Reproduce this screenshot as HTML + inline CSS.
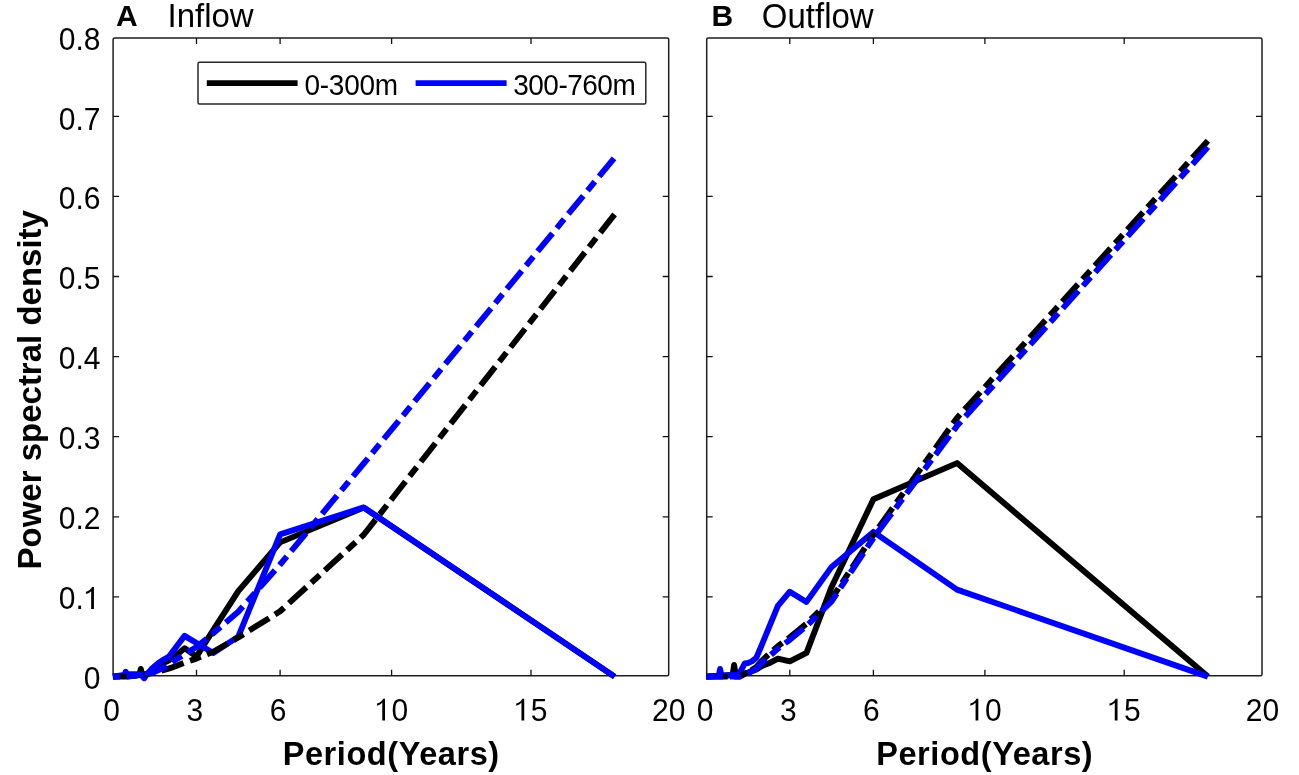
<!DOCTYPE html>
<html><head><meta charset="utf-8"><style>
html,body{margin:0;padding:0;background:#fff;}
svg{display:block;font-family:"Liberation Sans", sans-serif;will-change:transform;}
text{fill:#000;}
</style></head><body>
<svg width="1299" height="775" viewBox="0 0 1299 775">
<rect width="1299" height="775" fill="#fff"/>
<rect x="113.1" y="38.0" width="555.6" height="637.7" rx="1.5" fill="none" stroke="#1e1e1e" stroke-width="1.5"/>
<rect x="706.7" y="38.0" width="555.3" height="637.7" rx="1.5" fill="none" stroke="#1e1e1e" stroke-width="1.5"/>
<path d="M196.5,675.7v-6M196.5,38.0v6M280.1,675.7v-6M280.1,38.0v6M391.6,675.7v-6M391.6,38.0v6M531.0,675.7v-6M531.0,38.0v6M113.1,596.9h6M668.7,596.9h-6M113.1,516.8h6M668.7,516.8h-6M113.1,436.7h6M668.7,436.7h-6M113.1,356.6h6M668.7,356.6h-6M113.1,276.5h6M668.7,276.5h-6M113.1,196.4h6M668.7,196.4h-6M113.1,116.3h6M668.7,116.3h-6" stroke="#111" stroke-width="1.3" fill="none"/>
<path d="M789.8,675.7v-6M789.8,38.0v6M873.4,675.7v-6M873.4,38.0v6M984.9,675.7v-6M984.9,38.0v6M1124.2,675.7v-6M1124.2,38.0v6M706.7,596.9h6M1262.0,596.9h-6M706.7,516.8h6M1262.0,516.8h-6M706.7,436.7h6M1262.0,436.7h-6M706.7,356.6h6M1262.0,356.6h-6M706.7,276.5h6M1262.0,276.5h-6M706.7,196.4h6M1262.0,196.4h-6M706.7,116.3h6M1262.0,116.3h-6" stroke="#111" stroke-width="1.3" fill="none"/>
<polyline points="112.9,676.6 126.8,675.8 139.3,675.0 140.8,668.9 142.4,675.8 146.3,675.0 154.7,667.0 168.6,660.6 175.6,655.8 184.6,648.2 196.5,656.6 213.2,630.1 238.3,591.1 280.1,542.4 363.7,507.6 614.6,676.6" fill="none" stroke="#000" stroke-width="5.9" stroke-linejoin="round" stroke-linecap="butt"/>
<polyline points="112.9,676.6 124.0,675.0 124.9,674.2 125.7,671.8 126.8,674.2 138.0,674.2 140.8,674.2 144.3,678.2 146.3,675.0 148.7,672.6 151.5,669.0 154.7,666.2 158.5,663.0 163.1,659.8 168.6,657.0 175.6,647.8 184.6,635.9 196.5,643.0 213.2,653.0 238.3,636.6 280.1,534.4 363.7,507.4 614.6,676.6" fill="none" stroke="#0000ff" stroke-width="5.9" stroke-linejoin="round" stroke-linecap="butt"/>
<polyline points="112.9,676.6 126.8,676.6 140.8,675.0 154.7,672.6 168.6,668.6 175.6,666.2 184.6,662.6 196.5,658.6 213.2,651.8 238.3,637.4 280.1,611.3 363.7,534.8 614.6,214.4" fill="none" stroke="#000" stroke-width="5.9" stroke-linejoin="round" stroke-linecap="butt" stroke-dasharray="23.5 6.75 11.5 6.75" stroke-dashoffset="47.96"/>
<polyline points="112.9,676.6 126.8,676.6 140.8,675.0 154.7,671.8 168.6,665.4 175.6,659.8 184.6,654.2 196.5,647.0 213.2,633.3 238.3,611.7 280.1,564.5 363.7,463.5 614.6,157.6" fill="none" stroke="#0000ff" stroke-width="5.9" stroke-linejoin="round" stroke-linecap="butt" stroke-dasharray="23.5 6.75 11.5 6.75" stroke-dashoffset="16.35"/>
<polyline points="706.2,676.6 720.1,675.8 732.6,675.0 734.1,665.0 735.7,675.0 739.6,674.2 748.0,672.6 756.4,669.4 761.9,666.0 768.9,663.3 777.9,658.6 789.8,661.4 806.5,652.9 831.6,586.9 873.4,499.3 957.0,463.1 1207.9,676.6" fill="none" stroke="#000" stroke-width="5.9" stroke-linejoin="round" stroke-linecap="butt"/>
<polyline points="706.2,676.6 718.7,675.8 720.1,669.0 721.5,675.8 734.1,675.0 737.6,675.0 739.6,673.4 742.0,668.6 744.8,663.4 748.0,663.0 751.8,661.4 756.4,657.7 761.9,644.6 768.9,627.7 777.9,605.8 789.8,591.7 806.5,601.9 831.6,566.9 873.4,531.9 957.0,589.6 1207.9,676.6" fill="none" stroke="#0000ff" stroke-width="5.9" stroke-linejoin="round" stroke-linecap="butt"/>
<polyline points="706.2,676.6 739.6,676.6 748.0,672.6 756.4,667.0 761.9,660.6 768.9,654.2 777.9,646.2 789.8,637.4 806.5,623.7 831.6,598.9 873.4,534.8 957.0,417.9 1207.9,140.7" fill="none" stroke="#000" stroke-width="5.9" stroke-linejoin="round" stroke-linecap="butt" stroke-dasharray="23.5 6.75 11.5 6.75" stroke-dashoffset="2.05"/>
<polyline points="706.2,676.6 739.6,676.6 748.0,673.4 756.4,668.6 761.9,663.0 768.9,656.6 777.9,648.6 789.8,639.8 806.5,626.1 831.6,601.3 873.4,538.0 957.0,425.9 1207.9,147.1" fill="none" stroke="#0000ff" stroke-width="5.9" stroke-linejoin="round" stroke-linecap="butt" stroke-dasharray="23.5 6.75 11.5 6.75" stroke-dashoffset="6.56"/>
<g transform="translate(83.82,688.80) scale(1,1.04)"><text x="0.00" y="0" font-size="30">0</text></g>
<g transform="translate(58.80,608.91) scale(1,1.04)"><text x="0.00" y="0" font-size="30">0.</text><path transform="translate(25.02,0) scale(30,-30)" d="M0.245,0 L0.337,0 L0.337,0.704 L0.272,0.704 Q0.232,0.598 0.07,0.548 L0.07,0.478 Q0.185,0.505 0.245,0.57 Z"/></g>
<g transform="translate(58.80,529.02) scale(1,1.04)"><text x="0.00" y="0" font-size="30">0.2</text></g>
<g transform="translate(58.80,449.13) scale(1,1.04)"><text x="0.00" y="0" font-size="30">0.3</text></g>
<g transform="translate(58.80,369.24) scale(1,1.04)"><text x="0.00" y="0" font-size="30">0.4</text></g>
<g transform="translate(58.80,289.35) scale(1,1.04)"><text x="0.00" y="0" font-size="30">0.5</text></g>
<g transform="translate(58.80,209.46) scale(1,1.04)"><text x="0.00" y="0" font-size="30">0.6</text></g>
<g transform="translate(58.80,129.57) scale(1,1.04)"><text x="0.00" y="0" font-size="30">0.7</text></g>
<g transform="translate(58.80,49.68) scale(1,1.04)"><text x="0.00" y="0" font-size="30">0.8</text></g>
<g transform="translate(103.26,720.60) scale(1,1.04)"><text x="0.00" y="0" font-size="30">0</text></g>
<g transform="translate(186.56,720.60) scale(1,1.04)"><text x="0.00" y="0" font-size="30">3</text></g>
<g transform="translate(269.66,720.60) scale(1,1.04)"><text x="0.00" y="0" font-size="30">6</text></g>
<g transform="translate(374.92,720.60) scale(1,1.04)"><path transform="translate(0.00,0) scale(30,-30)" d="M0.245,0 L0.337,0 L0.337,0.704 L0.272,0.704 Q0.232,0.598 0.07,0.548 L0.07,0.478 Q0.185,0.505 0.245,0.57 Z"/><text x="16.68" y="0" font-size="30">0</text></g>
<g transform="translate(514.12,720.60) scale(1,1.04)"><path transform="translate(0.00,0) scale(30,-30)" d="M0.245,0 L0.337,0 L0.337,0.704 L0.272,0.704 Q0.232,0.598 0.07,0.548 L0.07,0.478 Q0.185,0.505 0.245,0.57 Z"/><text x="16.68" y="0" font-size="30">5</text></g>
<g transform="translate(652.12,720.60) scale(1,1.04)"><text x="0.00" y="0" font-size="30">20</text></g>
<text x="390.9" y="765.4" font-size="32.5" text-anchor="middle" font-weight="bold" textLength="216.5" lengthAdjust="spacing">Period(Years)</text>
<g transform="translate(696.76,720.60) scale(1,1.04)"><text x="0.00" y="0" font-size="30">0</text></g>
<g transform="translate(779.96,720.60) scale(1,1.04)"><text x="0.00" y="0" font-size="30">3</text></g>
<g transform="translate(863.06,720.60) scale(1,1.04)"><text x="0.00" y="0" font-size="30">6</text></g>
<g transform="translate(968.22,720.60) scale(1,1.04)"><path transform="translate(0.00,0) scale(30,-30)" d="M0.245,0 L0.337,0 L0.337,0.704 L0.272,0.704 Q0.232,0.598 0.07,0.548 L0.07,0.478 Q0.185,0.505 0.245,0.57 Z"/><text x="16.68" y="0" font-size="30">0</text></g>
<g transform="translate(1107.42,720.60) scale(1,1.04)"><path transform="translate(0.00,0) scale(30,-30)" d="M0.245,0 L0.337,0 L0.337,0.704 L0.272,0.704 Q0.232,0.598 0.07,0.548 L0.07,0.478 Q0.185,0.505 0.245,0.57 Z"/><text x="16.68" y="0" font-size="30">5</text></g>
<g transform="translate(1245.72,720.60) scale(1,1.04)"><text x="0.00" y="0" font-size="30">20</text></g>
<text x="984.4" y="765.4" font-size="32.5" text-anchor="middle" font-weight="bold" textLength="216.5" lengthAdjust="spacing">Period(Years)</text>
<text transform="translate(41.2,389.8) rotate(-90)" x="0" y="0" font-size="33" text-anchor="middle" font-weight="bold">Power spectral density</text>
<text x="116.0" y="26.3" font-size="30" text-anchor="start" font-weight="bold">A</text>
<text transform="translate(167.5,27.0) scale(1,1.01)" font-size="33" text-anchor="start" font-weight="normal">Inflow</text>
<text x="711.5" y="25.9" font-size="30" text-anchor="start" font-weight="bold">B</text>
<text transform="translate(761.8,28.1) scale(1,1.05)" font-size="33" text-anchor="start" font-weight="normal">Outflow</text>
<rect x="198" y="62.3" width="447.8" height="41.7" rx="1.5" fill="#fff" stroke="#262626" stroke-width="1.5"/>
<line x1="206.8" y1="83.1" x2="297.6" y2="83.1" stroke="#000" stroke-width="5.6"/>
<line x1="415.6" y1="83.1" x2="506.6" y2="83.1" stroke="#0000ff" stroke-width="5.6"/>
<text transform="translate(304.4,94.9) scale(1,1.04)" font-size="28" text-anchor="start" font-weight="normal" textLength="93.7" lengthAdjust="spacing">0-300m</text>
<text transform="translate(513.2,94.9) scale(1,1.04)" font-size="28" text-anchor="start" font-weight="normal" textLength="122.5" lengthAdjust="spacing">300-760m</text>
</svg>
</body></html>
